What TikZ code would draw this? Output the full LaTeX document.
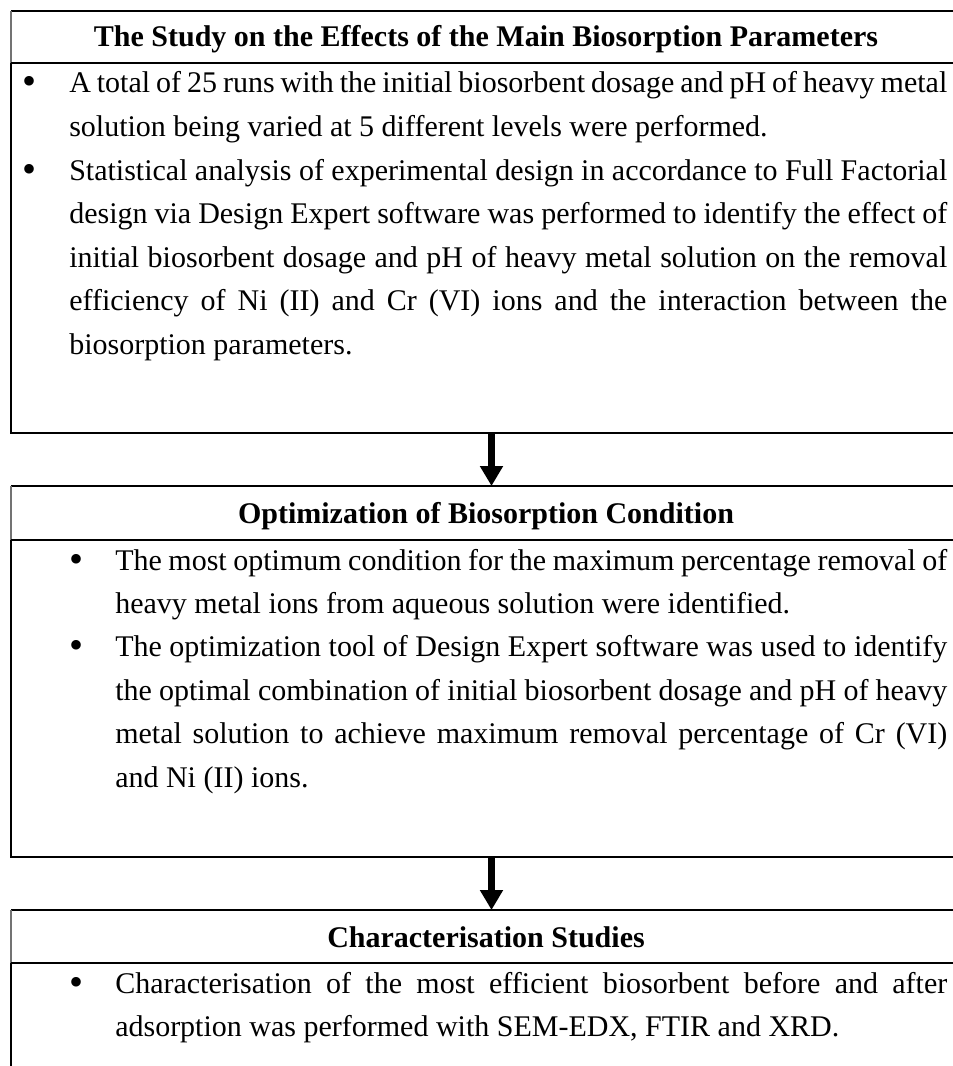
\documentclass[tikz,border=0pt]{standalone}
\usepackage{fontspec}
\setmainfont{Liberation Serif}
\usetikzlibrary{arrows.meta}
\newcommand\mybodysetup{\tolerance=9999 \hyphenpenalty=10000 \emergencystretch=0pt
  \spaceskip=0.25em plus 0.6em minus 0.12em\relax}
\begin{document}
\begin{tikzpicture}[x=0.75pt,y=-0.75pt,
  thinrule/.style={line width=0.8pt,black},
  thickrule/.style={line width=1.6pt,black},
  grayrule/.style={line width=1.3pt,black!55},
  headtext/.style={font=\bfseries\fontsize{22.5pt}{27pt}\selectfont,anchor=base,inner sep=0pt},
  bodytext/.style={font=\fontsize{22.5pt}{32.6pt}\selectfont,
                   anchor=base west,inner sep=0pt,align=justify},
  bullet/.style={font=\fontsize{30pt}{30pt}\selectfont,anchor=base,inner sep=0pt},
  flowarrow/.style={line width=5.25pt,-{Triangle[width=16.5pt,length=15pt]}}
]
\useasboundingbox (0,0) rectangle (952,1066);

% ---------- Box 1 ----------
\draw[thinrule] (11,11) -- (960,11);
\draw[grayrule] (11,11) -- (11,63);
\draw[thickrule] (11,63) -- (960,63);
\draw[thinrule] (11,63) -- (11,433) -- (960,433);
\node[headtext] (h1) at (486,47) {The Study on the Effects of the Main Biosorption Parameters};
\node[bullet] (b1a) at (30,95) {\textbullet};
\node[bodytext,text width=658.5pt] (p1a) at (69,93)
  {\mybodysetup A total of 25 runs with the initial biosorbent dosage and pH of heavy metal\linebreak
   solution being varied at 5 different levels were performed.};
\node[bullet] (b1b) at (30,182.3) {\textbullet};
\node[bodytext,text width=658.5pt] (p1b) at (69,180.3)
  {\mybodysetup Statistical analysis of experimental design in accordance to Full Factorial\linebreak
   design via Design Expert software was performed to identify the effect of\linebreak
   initial biosorbent dosage and pH of heavy metal solution on the removal\linebreak
   efficiency of Ni (II) and Cr (VI) ions and the interaction between the\linebreak
   biosorption parameters.};
\coordinate (box1s) at (491.5,433);

% ---------- Box 2 ----------
\draw[thickrule] (11,486) -- (960,486);
\draw[grayrule] (11,486) -- (11,540);
\draw[thickrule] (11,540) -- (960,540);
\draw[thinrule] (11,540) -- (11,857) -- (960,857);
\coordinate (box2n) at (491.5,486);
\node[headtext] (h2) at (486,523) {Optimization of Biosorption Condition};
\node[bullet] (b2a) at (77,572) {\textbullet};
\node[bodytext,text width=624pt] (p2a) at (115,570)
  {\mybodysetup The most optimum condition for the maximum percentage removal of\linebreak
   heavy metal ions from aqueous solution were identified.};
\node[bullet] (b2b) at (77,658.6) {\textbullet};
\node[bodytext,text width=624pt] (p2b) at (115,656.6)
  {\mybodysetup The optimization tool of Design Expert software was used to identify\linebreak
   the optimal combination of initial biosorbent dosage and pH of heavy\linebreak
   metal solution to achieve maximum removal percentage of Cr (VI)\linebreak
   and Ni (II) ions.};
\coordinate (box2s) at (491.5,857);

% ---------- Box 3 ----------
\draw[thickrule] (11,910) -- (960,910);
\draw[grayrule] (11,910) -- (11,963);
\draw[thickrule] (11,963) -- (960,963);
\draw[thinrule] (11,963) -- (11,1070);
\coordinate (box3n) at (491.5,910);
\node[headtext] (h3) at (486,947) {Characterisation Studies};
\node[bullet] (b3a) at (77,995) {\textbullet};
\node[bodytext,text width=624pt] (p3a) at (115,993)
  {\mybodysetup Characterisation of the most efficient biosorbent before and after\linebreak
   adsorption was performed with SEM-EDX, FTIR and XRD.};

% ---------- Arrows ----------
\draw[flowarrow] (box1s) -- (box2n);
\draw[flowarrow] (box2s) -- (box3n);
\end{tikzpicture}
\end{document}
